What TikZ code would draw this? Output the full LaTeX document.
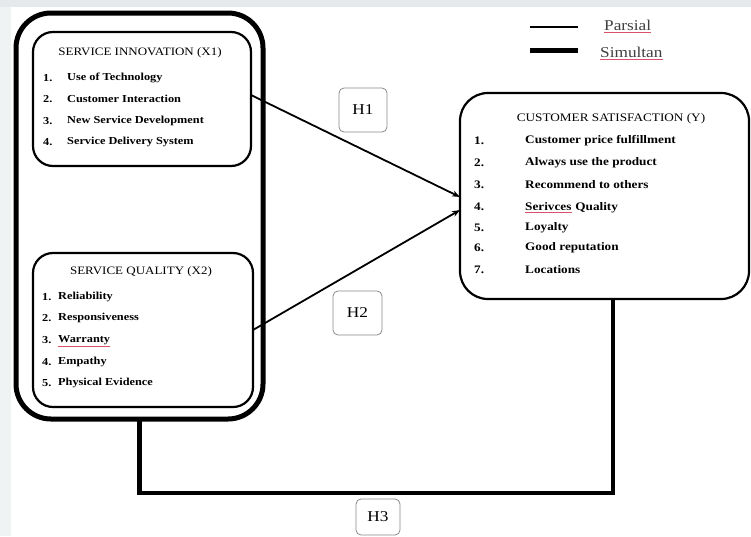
\documentclass[tikz,border=0pt]{standalone}
\usepackage{fontspec}
\setmainfont{Liberation Serif}[FakeStretch=1.15]
\usetikzlibrary{arrows.meta}
\definecolor{topband}{HTML}{E5E9EC}
\definecolor{leftband}{HTML}{EFF3F4}
\definecolor{spell}{HTML}{D9506A}
\definecolor{hbox}{HTML}{8A8A8A}
\begin{document}
\begin{tikzpicture}[x=1pt,y=-1pt,
  box/.style={draw, line width=2.2pt, rounded corners=20pt, inner sep=0, outer sep=0},
  ttl/.style={inner sep=0, font=\fontsize{11.3}{12}\selectfont},
  itm/.style={font=\fontsize{10.7}{12}\selectfont\bfseries, anchor=west, inner sep=0},
  itmy/.style={font=\fontsize{11.5}{12}\selectfont\bfseries, anchor=west, inner sep=0},
  hlab/.style={draw=hbox, line width=0.8pt, rounded corners=5pt, font=\fontsize{15}{16}\selectfont, inner sep=0},
  arr/.style={line width=1.8pt, -{Stealth[length=8pt,width=6pt]}},
  spellline/.style={draw=spell, line width=0.7pt},
  legtext/.style={anchor=west, inner sep=0, font=\fontsize{15}{16}\selectfont, text=black!75}
]
\useasboundingbox (0,0) rectangle (751,536);
\fill[white] (0,0) rectangle (751,536);
\fill[topband] (0,0) rectangle (751,7);
\fill[leftband] (0,7) rectangle (11,536);

% boxes
\node[draw, line width=5pt, rounded corners=35pt, inner sep=0, outer sep=0, minimum width=247pt, minimum height=406pt] (outer) at (139.5,216) {};
\node[box, minimum width=218pt, minimum height=134pt] (x1) at (142,99) {};
\node[box, minimum width=220pt, minimum height=154pt] (x2) at (143,330) {};
\node[box, rounded corners=28pt, minimum width=289pt, minimum height=206pt] (y) at (604.5,196) {};

% titles
\node[ttl] (t1) at (140,53) {SERVICE INNOVATION (X1)};
\node[ttl] (t2) at (141,272) {SERVICE QUALITY (X2)};
\node[ttl, font=\fontsize{11.5}{12}\selectfont] (t3) at (611,119) {CUSTOMER SATISFACTION (Y)};

% X1 items
\foreach \n/\yy/\txt in {1/78/Use of Technology, 2/99/Customer Interaction, 3/121/New Service Development, 4/142/Service Delivery System}{
  \node[itm] (x1n\n) at (43,\yy) {\n.};
  \node[itm] (x1i\n) at (67,\yy) {\txt};
}

% X2 items
\foreach \n/\yy/\txt in {1/297/Reliability, 2/318/Responsiveness, 3/340/Warranty, 4/362/Empathy, 5/383/Physical Evidence}{
  \node[itm] (x2n\n) at (42,\yy) {\n.};
  \node[itm] (x2i\n) at (58,\yy) {\txt};
}
\draw[spellline] ([yshift=-1pt]x2i3.south west) -- ([yshift=-1pt]x2i3.south east);

% Y items
\foreach \n/\yy in {1/141, 2/163, 3/185, 4/207, 5/228, 6/248, 7/270}{
  \node[itmy] (yn\n) at (474,\yy) {\n.};
}
\node[itmy] (yi1) at (525,141) {Customer price fulfillment};
\node[itmy] (yi2) at (525,163) {Always use the product};
\node[itmy] (yi3) at (525,185) {Recommend to others};
\node[itmy] (yi4) at (525,207) {Serivces};
\node[itmy, anchor=base west] (yi4b) at ([xshift=3.5pt]yi4.base east) {Quality};
\node[itmy] (yi5) at (525,228) {Loyalty};
\node[itmy] (yi6) at (525,248) {Good reputation};
\node[itmy] (yi7) at (525,270) {Locations};
\draw[spellline] ([yshift=-1.5pt]yi4.base west) -- ([yshift=-1.5pt]yi4.base east);

% hypothesis labels
\node[hlab, minimum width=48pt, minimum height=44pt] (h1) at (363,110) {H1};
\node[hlab, minimum width=49pt, minimum height=44pt] (h2) at (357.5,313) {H2};
\node[hlab, minimum width=44pt, minimum height=36pt] (h3) at (378,517) {H3};

% arrows
\coordinate (y1in) at (460,197);
\coordinate (y2in) at (460,210);
\coordinate (x1out) at (251,95);
\draw[arr] (x1out) -- (y1in);
\draw[arr] (x2.east) -- (y2in);

% simultaneous line
\coordinate (corner) at (613,493);
\coordinate (ybot) at (613,299);
\draw[line width=4.5pt, line join=miter] (outer.south) |- (corner) -- (ybot);

% legend
\coordinate (l1a) at (530,27);
\coordinate (l1b) at (578,27);
\coordinate (l2a) at (530,50);
\coordinate (l2b) at (578,50);
\draw[line width=2pt] (l1a) -- (l1b);
\draw[line width=5pt] (l2a) -- (l2b);
\node[legtext] (lp) at (604,25) {Parsial};
\node[legtext] (ls) at (600,52) {Simultan};
\draw[spellline] ([yshift=-2pt]lp.base west) -- ([yshift=-2pt]lp.base east);
\draw[spellline] ([yshift=-2pt]ls.base west) -- ([yshift=-2pt]ls.base east);
\end{tikzpicture}
\end{document}
